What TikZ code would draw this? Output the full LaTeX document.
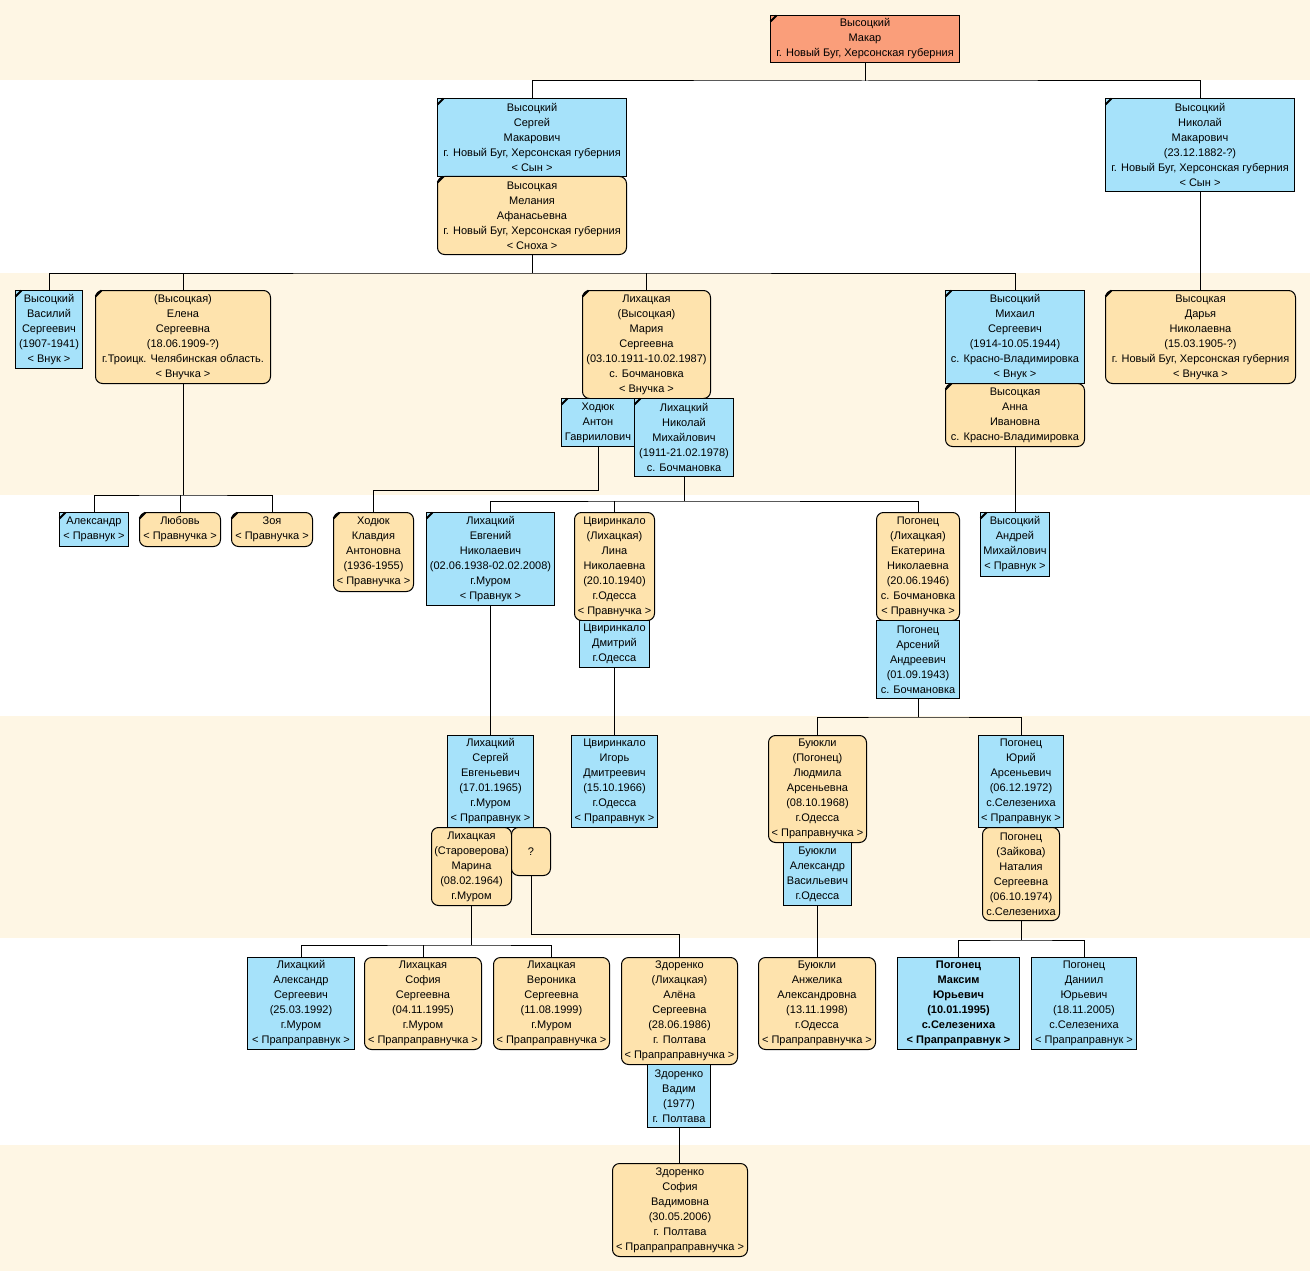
\documentclass[tikz,border=0pt]{standalone}
\usepackage{fontspec}
\setmainfont{Liberation Sans}
\usepackage{tikz}
\definecolor{pblue}{RGB}{166,226,250}
\definecolor{ptan}{RGB}{254,227,173}
\definecolor{psalmon}{RGB}{250,158,122}
\definecolor{pband}{RGB}{254,246,228}
\def\cardfont{\fontsize{11}{15}\selectfont}

\begin{document}
\begin{tikzpicture}[x=1pt,y=-1pt,line width=1pt,
  card/.style={anchor=north west,inner sep=0pt,align=center,draw=black,font=\cardfont},
  man/.style={card,fill=pblue},
  woman/.style={card,fill=ptan,rounded corners=7pt},
  root/.style={card,fill=psalmon}]
  \useasboundingbox (0,0) rectangle (1310,1271);
  \fill[white] (0,0) rectangle (1310,1271);
  \foreach \a/\b in {0/80,273/495,716/938,1145/1271}
  \fill[pband] (0,\a) rectangle (1310,\b);
  % generation 0 and 1
  \node[root,minimum width=189,minimum height=47] (makar) at (770,15) {Высоцкий\\Макар\\г. Новый Буг, Херсонская губерния};
  \node[man,minimum width=189,minimum height=78] (sergei) at (437,98) {Высоцкий\\Сергей\\Макарович\\г. Новый Буг, Херсонская губерния\\< Сын >};
  \node[woman,minimum width=189,minimum height=78] (melania) at (437,176) {Высоцкая\\Мелания\\Афанасьевна\\г. Новый Буг, Херсонская губерния\\< Сноха >};
  \node[man,minimum width=189,minimum height=93] (nikolai) at (1105,98) {Высоцкий\\Николай\\Макарович\\(23.12.1882-?)\\г. Новый Буг, Херсонская губерния\\< Сын >};
  % generation 2
  \node[man,minimum width=67,minimum height=78] (vasily) at (15,290) {Высоцкий\\Василий\\Сергеевич\\(1907-1941)\\< Внук >};
  \node[woman,minimum width=175,minimum height=93] (elena) at (95,290) {(Высоцкая)\\Елена\\Сергеевна\\(18.06.1909-?)\\г.Троицк. Челябинская область.\\< Внучка >};
  \node[woman,minimum width=128,minimum height=108] (maria) at (582,290) {Лихацкая\\(Высоцкая)\\Мария\\Сергеевна\\(03.10.1911-10.02.1987)\\с. Бочмановка\\< Внучка >};
  \node[man,minimum width=73,minimum height=48] (anton) at (561,398) {Ходюк\\Антон\\Гавриилович};
  \node[man,minimum width=99,minimum height=78] (nikolaiM) at (634,398) {Лихацкий\\Николай\\Михайлович\\(1911-21.02.1978)\\с. Бочмановка};
  \node[man,minimum width=139,minimum height=93] (mikhail) at (945,290) {Высоцкий\\Михаил\\Сергеевич\\(1914-10.05.1944)\\с. Красно-Владимировка\\< Внук >};
  \node[woman,minimum width=139,minimum height=63] (anna) at (945,383) {Высоцкая\\Анна\\Ивановна\\с. Красно-Владимировка};
  \node[woman,minimum width=190,minimum height=93] (darya) at (1105,290) {Высоцкая\\Дарья\\Николаевна\\(15.03.1905-?)\\г. Новый Буг, Херсонская губерния\\< Внучка >};
  % generation 3
  \node[man,minimum width=69,minimum height=34] (alex) at (59,512) {Александр\\< Правнук >};
  \node[woman,minimum width=81,minimum height=34] (lyubov) at (139,512) {Любовь\\< Правнучка >};
  \node[woman,minimum width=81,minimum height=34] (zoya) at (231,512) {Зоя\\< Правнучка >};
  \node[woman,minimum width=80,minimum height=79] (klava) at (333,512) {Ходюк\\Клавдия\\Антоновна\\(1936-1955)\\< Правнучка >};
  \node[man,minimum width=128,minimum height=93] (evgeny) at (426,512) {Лихацкий\\Евгений\\Николаевич\\(02.06.1938-02.02.2008)\\г.Муром\\< Правнук >};
  \node[woman,minimum width=80,minimum height=108] (lina) at (574,512) {Цвиринкало\\(Лихацкая)\\Лина\\Николаевна\\(20.10.1940)\\г.Одесса\\< Правнучка >};
  \node[man,minimum width=70,minimum height=47] (dmitry) at (579,620) {Цвиринкало\\Дмитрий\\г.Одесса};
  \node[woman,minimum width=83,minimum height=108] (katya) at (876,512) {Погонец\\(Лихацкая)\\Екатерина\\Николаевна\\(20.06.1946)\\с. Бочмановка\\< Правнучка >};
  \node[man,minimum width=83,minimum height=78] (arseny) at (876,620) {Погонец\\Арсений\\Андреевич\\(01.09.1943)\\с. Бочмановка};
  \node[man,minimum width=69,minimum height=64] (andrei) at (980,512) {Высоцкий\\Андрей\\Михайлович\\< Правнук >};
  % generation 4
  \node[man,minimum width=86,minimum height=92] (sergeiE) at (447,735) {Лихацкий\\Сергей\\Евгеньевич\\(17.01.1965)\\г.Муром\\< Праправнук >};
  \node[woman,minimum width=80,minimum height=78] (marina) at (431,827) {Лихацкая\\(Староверова)\\Марина\\(08.02.1964)\\г.Муром};
  \node[woman,minimum width=39,minimum height=48] (unknown) at (511,827) {?};
  \node[man,minimum width=86,minimum height=92] (igor) at (571,735) {Цвиринкало\\Игорь\\Дмитреевич\\(15.10.1966)\\г.Одесса\\< Праправнук >};
  \node[woman,minimum width=98,minimum height=107] (lyuda) at (768,735) {Буюкли\\(Погонец)\\Людмила\\Арсеньевна\\(08.10.1968)\\г.Одесса\\< Праправнучка >};
  \node[man,minimum width=68,minimum height=63] (alexV) at (783,842) {Буюкли\\Александр\\Васильевич\\г.Одесса};
  \node[man,minimum width=85,minimum height=92] (yuri) at (978,735) {Погонец\\Юрий\\Арсеньевич\\(06.12.1972)\\с.Селезениха\\< Праправнук >};
  \node[woman,minimum width=77,minimum height=93] (natalia) at (982,827) {Погонец\\(Зайкова)\\Наталия\\Сергеевна\\(06.10.1974)\\с.Селезениха};
  % generation 5 and 6
  \node[man,minimum width=107,minimum height=92] (alexS) at (247,957) {Лихацкий\\Александр\\Сергеевич\\(25.03.1992)\\г.Муром\\< Прапраправнук >};
  \node[woman,minimum width=117,minimum height=92] (sofia) at (364,957) {Лихацкая\\София\\Сергеевна\\(04.11.1995)\\г.Муром\\< Прапраправнучка >};
  \node[woman,minimum width=116,minimum height=92] (veronika) at (493,957) {Лихацкая\\Вероника\\Сергеевна\\(11.08.1999)\\г.Муром\\< Прапраправнучка >};
  \node[woman,minimum width=116,minimum height=107] (alena) at (621,957) {Здоренко\\(Лихацкая)\\Алёна\\Сергеевна\\(28.06.1986)\\г. Полтава\\< Прапраправнучка >};
  \node[man,minimum width=63,minimum height=63] (vadim) at (647,1064) {Здоренко\\Вадим\\(1977)\\г. Полтава};
  \node[woman,minimum width=117,minimum height=92] (anzhela) at (758,957) {Буюкли\\Анжелика\\Александровна\\(13.11.1998)\\г.Одесса\\< Прапраправнучка >};
  \node[man,minimum width=122,minimum height=92,font=\cardfont\bfseries] (maksim) at (897,957) {Погонец\\Максим\\Юрьевич\\(10.01.1995)\\с.Селезениха\\< Прапраправнук >};
  \node[man,minimum width=105,minimum height=92] (daniil) at (1031,957) {Погонец\\Даниил\\Юрьевич\\(18.11.2005)\\с.Селезениха\\< Прапраправнук >};
  \node[woman,minimum width=135,minimum height=93] (sofiaV) at (612,1163) {Здоренко\\София\\Вадимовна\\(30.05.2006)\\г. Полтава\\< Прапрапраправнучка >};
  % corner marks
  \foreach \n in {makar,sergei,melania,nikolai,vasily,elena,maria,anton,nikolaiM,mikhail,anna,darya,alex,lyubov,zoya,klava,evgeny,andrei}
  \draw[line width=2pt] (\n.north west) ++(0.5,6.5) -- ++(6,-6);
  % lines
  \coordinate (j0) at (makar.south |- 0,81);
  \draw (makar.south) -- (j0); \draw (sergei.north) |- (j0) -| (nikolai.north);
  \coordinate (j1) at (melania.south |- 0,273);
  \draw (melania.south) -- (j1); \draw (vasily.north) |- (j1) -| (mikhail.north);
  \draw (elena.north) -- (elena.north |- j1); \draw (maria.north) -- (maria.north |- j1);
  \draw (nikolai.south) -- (nikolai.south |- darya.north);
  \coordinate (j2) at (elena.south |- 0,495);
  \draw (elena.south) -- (j2); \draw (alex.north) |- (j2) -| (zoya.north);
  \draw (lyubov.north) -- (lyubov.north |- j2);
  \coordinate (j3) at (anton.south |- 0,490);
  \draw (anton.south) -- (j3) -| (klava.north);
  \coordinate (j4) at (nikolaiM.south |- 0,501);
  \draw (nikolaiM.south) -- (j4); \draw (evgeny.north) |- (j4) -| (katya.north);
  \draw (lina.north) -- (lina.north |- j4);
  \draw (anna.south) -- (anna.south |- andrei.north);
  \draw (evgeny.south) -- (evgeny.south |- sergeiE.north);
  \draw (dmitry.south) -- (dmitry.south |- igor.north);
  \coordinate (j5) at (arseny.south |- 0,717);
  \draw (arseny.south) -- (j5); \draw (lyuda.north) |- (j5) -| (yuri.north);
  \coordinate (j6) at (marina.south |- 0,945);
  \draw (marina.south) -- (j6); \draw (alexS.north) |- (j6) -| (veronika.north);
  \draw (sofia.north) -- (sofia.north |- j6);
  \coordinate (j7) at (unknown.south |- 0,934);
  \draw (unknown.south) -- (j7) -| (alena.north);
  \draw (alexV.south) -- (alexV.south |- anzhela.north);
  \coordinate (j8) at (natalia.south |- 0,940);
  \draw (natalia.south) -- (j8); \draw (maksim.north) |- (j8) -| (daniil.north);
  \draw (vadim.south) -- (vadim.south |- sofiaV.north);
\end{tikzpicture}
\end{document}
